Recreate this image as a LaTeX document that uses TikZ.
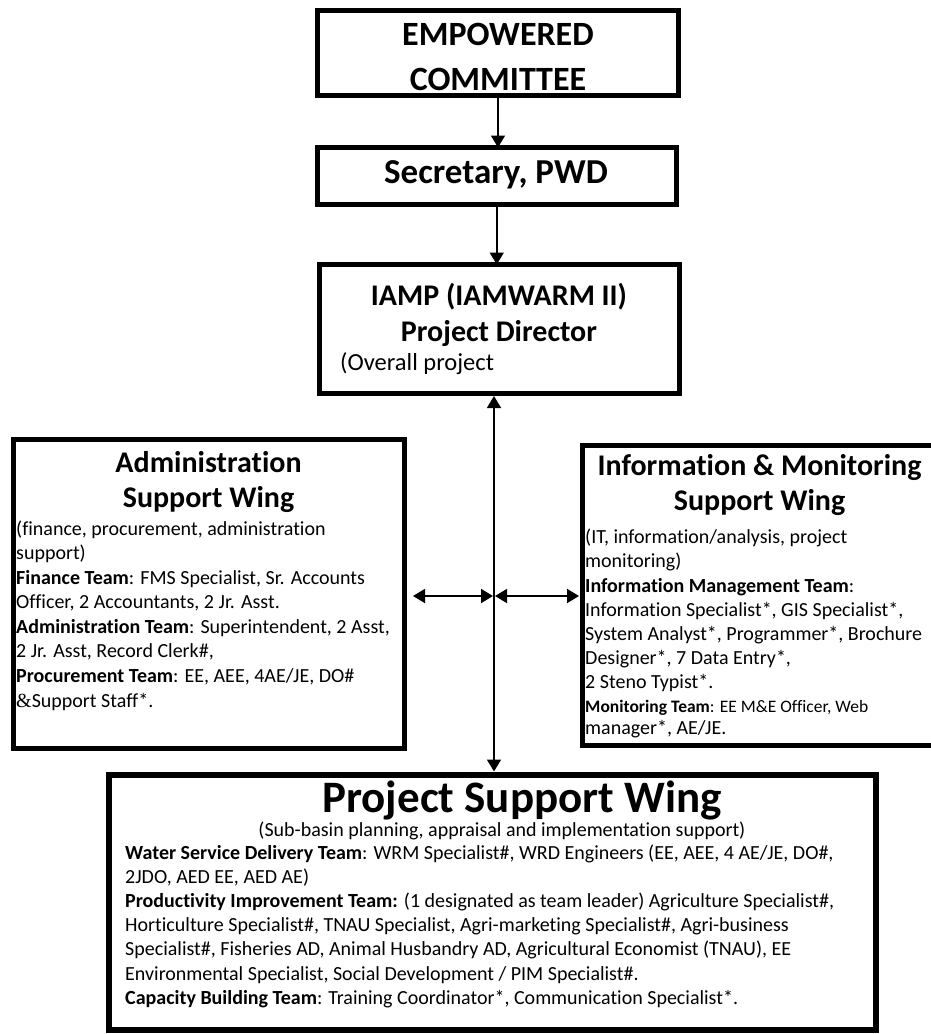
\documentclass[tikz,border=0pt]{standalone}
\usepackage{fontspec}
\setmainfont{Carlito}[Ligatures={CommonOff,ContextualOff}]
\newfontfamily\ampfont{Liberation Serif}
\usetikzlibrary{arrows.meta,calc}

\begin{document}
\begin{tikzpicture}[x=1pt,y=-1pt,
  box/.style={draw, line width=5pt, rectangle, inner sep=0pt, outer sep=0pt},
  tip/.tip={Triangle[length=12pt,width=14pt]},
  link/.style={line width=1.6pt, -tip},
  twoway/.style={line width=1.6pt, tip-tip},
  title/.style={font=\fontsize{30}{36}\selectfont\bfseries, inner sep=0pt, anchor=base},
  txt/.style={font=\fontsize{20}{24}\selectfont, inner sep=0pt, anchor=base west},
  small/.style={font=\fontsize{17.5}{21}\selectfont, inner sep=0pt, anchor=base west},
]
\useasboundingbox (0,0) rectangle (930,1034);

% ---------- boxes ----------
\node[box, minimum width=361pt,   minimum height=84.5pt]  (emp)  at (498,52.75) {};
\node[box, minimum width=359.5pt, minimum height=57pt]    (sec)  at (496.75,176) {};
\node[box, minimum width=360pt,   minimum height=128.5pt] (iamp) at (499.5,328.75) {};
\node[box, minimum width=390.5pt, minimum height=309pt]   (adm)  at (208.75,594) {};
\node[box, minimum width=358pt,   minimum height=300pt]   (info) at (761,595.5) {};
\node[box, line width=6pt, minimum width=767pt, minimum height=255pt] (psw) at (492,902) {};

% ---------- top of the chain ----------
\node[title, font=\fontsize{34}{40}\selectfont\bfseries] (emp1) at (498,45) {EMPOWERED};
\node[title, font=\fontsize{34}{40}\selectfont\bfseries] (emp2) at (498,90) {COMMITTEE};
\node[title, font=\fontsize{35}{40}\selectfont\bfseries] (sec1) at (496,183) {Secretary, PWD};

\node[title] (iamp1) at (499,305) {IAMP (IAMWARM II)};
\node[title] (iamp2) at (499,341) {Project Director};
\node[txt, font=\fontsize{24.5}{28}\selectfont] (iamp3) at (340,370) {(Overall project};

% ---------- administration wing ----------
\node[title] (adm1) at (208.5,472) {Administration};
\node[title] (adm2) at (208.5,507) {Support Wing};
\node[txt] (adm3)  at (16,535) {(finance, procurement, administration};
\node[txt] (adm4)  at (16,559.5) {support)};
\node[txt] (adm5)  at (16,584) {\textbf{Finance Team}: FMS Specialist, Sr. Accounts};
\node[txt] (adm6)  at (16,608.5) {Officer, 2 Accountants, 2 Jr. Asst.};
\node[txt] (adm7)  at (16,633) {\textbf{Administration Team}: Superintendent, 2 Asst,};
\node[txt] (adm8)  at (16,657.5) {2 Jr. Asst, Record Clerk\#,};
\node[txt] (adm9)  at (16,682) {\textbf{Procurement Team}: EE, AEE, 4AE/JE, DO\#};
\node[txt] (adm10) at (16,707) {{\ampfont\&}Support Staff*.};

% ---------- information & monitoring wing ----------
\node[title] (info1) at (759.5,475) {Information \& Monitoring};
\node[title] (info2) at (759.5,510) {Support Wing};
\node[txt] (info3) at (585,543) {(IT, information/analysis, project};
\node[txt] (info4) at (585,567) {monitoring)};
\node[txt] (info5) at (585,592) {\textbf{Information Management Team}:};
\node[txt] (info6) at (585,616) {Information Specialist*, GIS Specialist*,};
\node[txt] (info7) at (585,640) {System Analyst*, Programmer*, Brochure};
\node[txt] (info8) at (585,664.5) {Designer*, 7 Data Entry*,};
\node[txt] (info9) at (585,688) {2 Steno Typist*.};
\node[small] (info10) at (585,712) {\textbf{Monitoring Team}: EE M\&E Officer, Web};
\node[txt] (info11) at (585,734) {manager*, AE/JE.};

% ---------- project support wing ----------
\node[title, font=\fontsize{45}{50}\selectfont\bfseries] (psw1) at (522,812) {Project Support Wing};
\node[txt, anchor=base] (psw2) at (502,836) {(Sub-basin planning, appraisal and implementation support)};
\node[txt] (psw3) at (125,859) {\textbf{Water Service Delivery Team}: WRM Specialist\#, WRD Engineers (EE, AEE, 4 AE/JE, DO\#,};
\node[txt] (psw4) at (125,883) {2JDO, AED EE, AED AE)};
\node[txt] (psw5) at (125,907) {\textbf{Productivity Improvement Team:} (1 designated as team leader) Agriculture Specialist\#,};
\node[txt] (psw6) at (125,931.5) {Horticulture Specialist\#, TNAU Specialist, Agri-marketing Specialist\#, Agri-business};
\node[txt] (psw7) at (125,955.5) {Specialist\#, Fisheries AD, Animal Husbandry AD, Agricultural Economist (TNAU), EE};
\node[txt] (psw8) at (125,980) {Environmental Specialist, Social Development / PIM Specialist\#.};
\node[txt] (psw9) at (125,1004) {\textbf{Capacity Building Team}: Training Coordinator*, Communication Specialist*.};

% ---------- connectors ----------
\coordinate (spine) at (494,0);
\coordinate (cross) at (0,596);
\draw[link] (emp.south) -- (emp.south |- sec.north);
\draw[link] (sec.south) -- (sec.south |- iamp.north);
\draw[twoway] ($(spine |- iamp.south)+(0,3)$) -- ($(spine |- psw.north)-(0,3)$);
\draw[twoway] ($(adm.east |- cross)+(9,0)$) -- ($(spine |- cross)-(1,0)$);
\draw[twoway] ($(spine |- cross)+(1,0)$) -- ($(info.west |- cross)-(3,0)$);
\end{tikzpicture}
\end{document}
